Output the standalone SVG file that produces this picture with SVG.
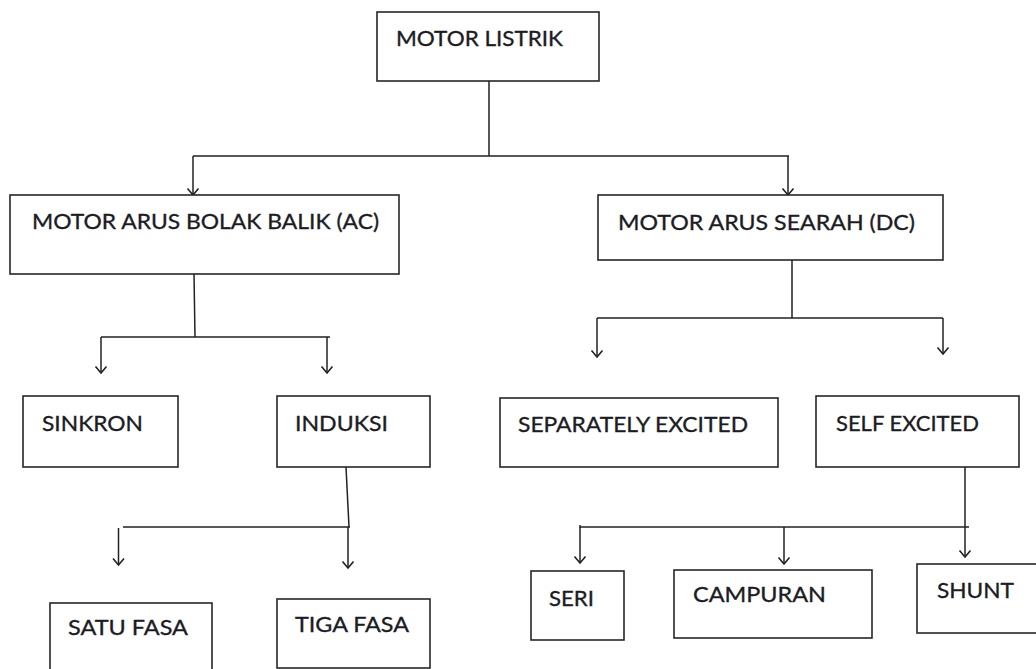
<svg xmlns="http://www.w3.org/2000/svg" width="1036" height="669" viewBox="0 0 1036 669">
<style>
.box{fill:#fff;stroke:#262626;stroke-width:1.6}
.lbl{font-family:Lato,"Liberation Sans",sans-serif;font-size:22px;fill:#1c1c24;stroke:#1c1c24;stroke-width:0.35}
.ln{fill:none;stroke:#222;stroke-width:1.5}
.ar{fill:none;stroke:#222;stroke-width:1.5;marker-end:url(#arr)}
</style>
<defs>
<marker id="arr" markerUnits="userSpaceOnUse" viewBox="0 0 10 12" markerWidth="10" markerHeight="12" refX="8" refY="6" orient="auto" overflow="visible">
<path d="M1.5,0.5 L8,6 L1.5,11.5" fill="none" stroke="#222" stroke-width="1.6"/>
</marker>
</defs>
<rect width="1036" height="669" fill="#fff"/>
<g id="connectors">
<path class="ln" d="M489,81 V156 M193,156 H789"/>
<path class="ar" d="M193,156 V195"/>
<path class="ar" d="M788,156 V195"/>
<path class="ln" d="M194,274 L195,337 M101,337 H330"/>
<path class="ar" d="M101,337 V373"/>
<path class="ar" d="M327,337 V373"/>
<path class="ln" d="M792,260 V318 M597,318 H943"/>
<path class="ar" d="M597,318 V357"/>
<path class="ar" d="M943,318 V354"/>
<path class="ln" d="M346,467 L349,527 M123,527 H350"/>
<path class="ar" d="M118.5,528 V565"/>
<path class="ar" d="M348,527 V568"/>
<path class="ln" d="M965,467 V527 M580,525 V527 H969"/>
<path class="ar" d="M580,527 V563"/>
<path class="ar" d="M784,527 V564"/>
<path class="ar" d="M965,527 V557"/>
</g>
<g id="n-motor-listrik"><rect class="box" x="377" y="12" width="222" height="69"/><text class="lbl" x="396" y="46" textLength="167" lengthAdjust="spacingAndGlyphs">MOTOR LISTRIK</text></g>
<g id="n-ac"><rect class="box" x="10" y="195" width="389" height="79"/><text class="lbl" x="32" y="229" textLength="347" lengthAdjust="spacingAndGlyphs">MOTOR ARUS BOLAK BALIK (AC)</text></g>
<g id="n-dc"><rect class="box" x="598" y="195" width="345" height="65"/><text class="lbl" x="618" y="230" textLength="297" lengthAdjust="spacingAndGlyphs">MOTOR ARUS SEARAH (DC)</text></g>
<g id="n-sinkron"><rect class="box" x="23" y="396" width="155" height="71"/><text class="lbl" x="42" y="431" textLength="101" lengthAdjust="spacingAndGlyphs">SINKRON</text></g>
<g id="n-induksi"><rect class="box" x="277" y="396" width="153" height="71"/><text class="lbl" x="295" y="431" textLength="93" lengthAdjust="spacingAndGlyphs">INDUKSI</text></g>
<g id="n-separately"><rect class="box" x="500" y="398" width="278" height="69"/><text class="lbl" x="518" y="432" textLength="230" lengthAdjust="spacingAndGlyphs">SEPARATELY EXCITED</text></g>
<g id="n-self"><rect class="box" x="816" y="396" width="203" height="71"/><text class="lbl" x="836" y="431" textLength="143" lengthAdjust="spacingAndGlyphs">SELF EXCITED</text></g>
<g id="n-satu-fasa"><rect class="box" x="50" y="603" width="162" height="80"/><text class="lbl" x="68" y="635" textLength="120" lengthAdjust="spacingAndGlyphs">SATU FASA</text></g>
<g id="n-tiga-fasa"><rect class="box" x="277" y="599" width="153" height="69"/><text class="lbl" x="295" y="632" textLength="114" lengthAdjust="spacingAndGlyphs">TIGA FASA</text></g>
<g id="n-seri"><rect class="box" x="531" y="571" width="93" height="69"/><text class="lbl" x="549" y="606" textLength="45" lengthAdjust="spacingAndGlyphs">SERI</text></g>
<g id="n-campuran"><rect class="box" x="674" y="570" width="198" height="68"/><text class="lbl" x="693" y="602" textLength="133" lengthAdjust="spacingAndGlyphs">CAMPURAN</text></g>
<g id="n-shunt"><rect class="box" x="917" y="564" width="130" height="69"/><text class="lbl" x="937" y="598" textLength="77" lengthAdjust="spacingAndGlyphs">SHUNT</text></g>
</svg>
